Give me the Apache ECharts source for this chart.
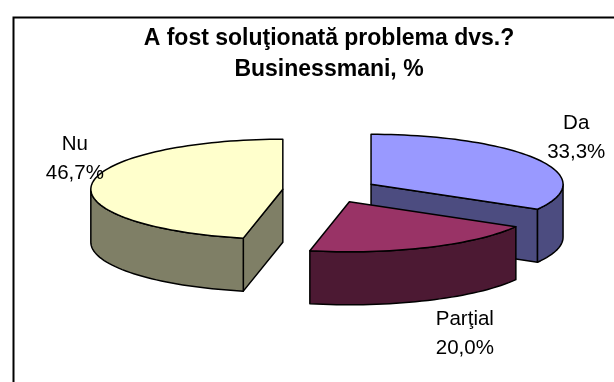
<!DOCTYPE html>
<html>
<head>
<meta charset="utf-8">
<script src="https://cdn.jsdelivr.net/npm/echarts@6/dist/echarts.min.js"></script>
<style>
  html, body { margin: 0; padding: 0; background: #fff; }
  #chart { width: 614px; height: 382px; }
</style>
</head>
<body>
<div id="chart"></div>
<script>
// Answers to "A fost soluţionată problema dvs.?" (businessmen, %)
const categories = ['Da', 'Parţial', 'Nu'];
const shares = [33.3, 20.0, 46.7];

// face colours: top face and the darker shaded walls
const topColors = ['#9999FF', '#993366', '#FFFFCC'];
const sideColors = ['#4C4C80', '#4C1933', '#7F7F66'];

// label placement relative to the outer middle of each slice (px)
const labelShift = [[39, -21], [37, 86], [-17, -25]];

const FONT = '"Liberation Sans", Arial, sans-serif';
const EXPLODE = 0.247;   // slice pull-out, in radius units
const DEPTH = 1.06;      // thickness of the pie, in y units
const DEG = Math.PI / 180;

const total = shares.reduce((s, v) => s + v, 0);

function fmt(v) {
  return v.toFixed(1).replace('.', ',') + '%';
}

function renderSlice(params, api) {
  const i = params.dataIndex;
  let before = 0;
  for (let k = 0; k < i; k++) before += shares[k];
  const value = api.value(0);
  // Clockwise from 12 o'clock
  const hi = 90 - 360 * before / total;
  const lo = hi - 360 * value / total;
  const mid = (hi + lo) / 2;
  const ox = EXPLODE * Math.cos(mid * DEG);
  const oy = EXPLODE * Math.sin(mid * DEG);

  const P = (a, drop) => api.coord([ox + Math.cos(a * DEG), oy + Math.sin(a * DEG) - drop]);
  const C = (drop) => api.coord([ox, oy - drop]);
  const arc = (from, to, drop) => {
    const pts = [];
    const n = Math.max(2, Math.ceil(Math.abs(to - from) / 2));
    for (let s = 0; s <= n; s++) pts.push(P(from + (to - from) * s / n, drop));
    return pts;
  };

  const base = -Math.sin(mid * DEG) * 10;
  const stroke = { stroke: '#000', lineWidth: 1.5, lineJoin: 'round' };
  const children = [];

  // radial walls facing the viewer
  if (Math.cos(hi * DEG) < -1e-6) {
    children.push({
      type: 'polygon', z2: base,
      shape: { points: [C(0), P(hi, 0), P(hi, DEPTH), C(DEPTH)] },
      style: Object.assign({ fill: sideColors[i] }, stroke)
    });
  }
  if (Math.cos(lo * DEG) > 1e-6) {
    children.push({
      type: 'polygon', z2: base,
      shape: { points: [C(0), P(lo, 0), P(lo, DEPTH), C(DEPTH)] },
      style: Object.assign({ fill: sideColors[i] }, stroke)
    });
  }

  // outer curved wall on the front half
  const wHi = Math.min(hi, 0);
  const wLo = Math.max(lo, -180);
  if (wHi > wLo) {
    children.push({
      type: 'polygon', z2: base + 0.1,
      shape: { points: arc(wHi, wLo, 0).concat(arc(wLo, wHi, DEPTH)) },
      style: Object.assign({ fill: sideColors[i] }, stroke)
    });
  }

  // top face
  children.push({
    type: 'polygon', z2: base + 0.2,
    shape: { points: [C(0)].concat(arc(hi, lo, 0)) },
    style: Object.assign({ fill: topColors[i] }, stroke)
  });

  // label
  const anchor = P(mid, 0);
  children.push({
    type: 'text', z2: 100,
    x: anchor[0] + labelShift[i][0],
    y: anchor[1] + labelShift[i][1],
    style: {
      text: categories[i] + '\n' + fmt(value),
      fill: '#000',
      font: '20.5px ' + FONT,
      align: 'center',
      verticalAlign: 'middle',
      lineHeight: 29
    }
  });

  return { type: 'group', children: children };
}

const chart = echarts.init(document.getElementById('chart'), null, { renderer: 'canvas' });
chart.setOption({
  backgroundColor: '#fff',
  animation: false,
  title: {
    text: 'A fost soluţionată problema dvs.?\nBusinessmani, %',
    left: 324,
    textAlign: 'center',
    top: 18,
    textStyle: {
      fontFamily: FONT,
      fontSize: 23,
      fontWeight: 'bold',
      color: '#000',
      lineHeight: 31
    }
  },
  graphic: [{
    type: 'rect',
    left: 11, top: 15,
    shape: { width: 700, height: 500 },
    style: { fill: null, stroke: '#000', lineWidth: 2 },
    silent: true
  }],
  grid: { left: 61.2, right: 15.2, top: 115.5, bottom: 66.5 },
  xAxis: { type: 'value', min: -1.4, max: 1.4, show: false },
  yAxis: { type: 'value', min: -2.5, max: 1.5, show: false },
  series: [{
    type: 'custom',
    coordinateSystem: 'cartesian2d',
    clip: false,
    renderItem: renderSlice,
    data: shares.map((v, i) => ({ name: categories[i], value: [v] }))
  }]
});
</script>
</body>
</html>
